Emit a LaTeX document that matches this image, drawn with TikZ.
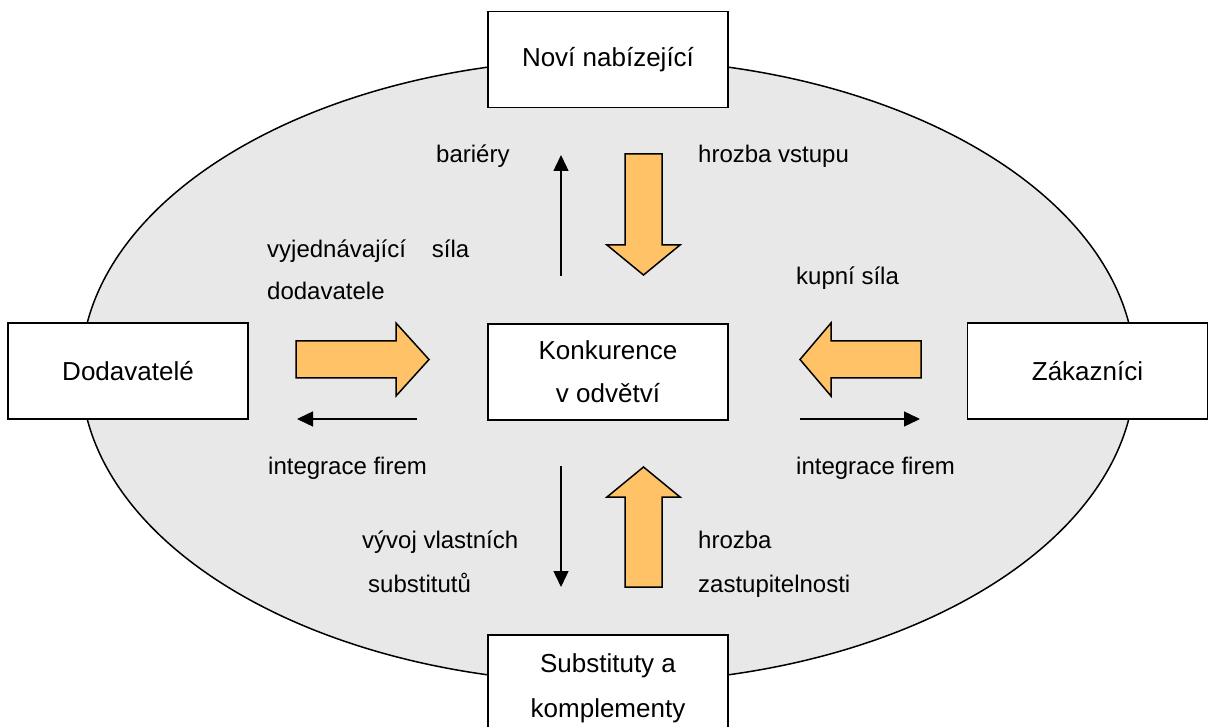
\documentclass[tikz,border=0pt]{standalone}
\usepackage{fontspec}
\setmainfont{Liberation Sans}
\usetikzlibrary{arrows.meta}
\definecolor{fieldgray}{HTML}{E8E8E8}
\definecolor{forceorange}{HTML}{FFC266}
\tikzset{
  box/.style={draw=black, line width=1.5pt, fill=white, minimum width=240pt,
    minimum height=96pt, inner sep=0pt, align=center,
    font=\fontsize{26}{43}\selectfont},
  lbl/.style={anchor=base west, inner sep=0pt, font=\fontsize{24}{24}\selectfont},
  thinarrow/.style={draw=black, line width=1.4pt,
    -{Triangle[length=16pt,width=15pt]}},
  fatarrow/.style={draw=black, line width=1.5pt, fill=forceorange, line join=miter}
}
% fat arrow: #1 = tail centre, #2 = direction angle, #3 = total length, #4 = head length
\newcommand\forcearrow[4]{%
  \draw[fatarrow, shift={(#1)}, rotate=#2]
    (0,-18.5) -- ({#3-#4},-18.5) -- ({#3-#4},-36.5) -- (#3,0)
    -- ({#3-#4},36.5) -- ({#3-#4},18.5) -- (0,18.5) -- cycle;}
\begin{document}
\begin{tikzpicture}[x=1pt, y=-1pt]
  \useasboundingbox (0,0) rectangle (1208,727);
  \clip (0,0) rectangle (1208,727);

  % industry field
  \draw[line width=1.5pt, fill=fieldgray] (608,371) ellipse [x radius=527pt, y radius=312pt];

  % the five forces
  \node[box] (novi) at (608,59.5) {Noví nabízející};
  \node[box] (dod) at (128,371) {Dodavatelé};
  \node[box] (konk) at (608,372) {Konkurence\\v odvětví};
  \node[box] (zak) at (1087.5,371) {Zákazníci};
  \node[box, minimum height=110pt, text depth=0pt] (subst) at (608,690) {};
  \node[anchor=base, inner sep=0pt, font=\fontsize{26}{26}\selectfont] at (608,672) {Substituty a};
  \node[anchor=base, inner sep=0pt, font=\fontsize{26}{26}\selectfont] at (608,717) {komplementy};

  % orange pressure arrows
  \forcearrow{296,359.5}{0}{133}{33}
  \forcearrow{921,359.5}{180}{121}{31}
  \forcearrow{643.5,154}{-90}{121}{30}
  \forcearrow{643.5,587}{90}{120}{30}

  % thin response arrows
  \coordinate (barS) at (561,276);
  \coordinate (barE) at (561,155);
  \draw[thinarrow] (barS) -- (barE);
  \coordinate (vyvS) at (561,466);
  \coordinate (vyvE) at (561,587);
  \draw[thinarrow] (vyvS) -- (vyvE);
  \coordinate (intLS) at (417,419);
  \coordinate (intLE) at (297,419);
  \draw[thinarrow] (intLS) -- (intLE);
  \coordinate (intRS) at (800,419);
  \coordinate (intRE) at (920,419);
  \draw[thinarrow] (intRS) -- (intRE);

  % labels
  \node[lbl] (l1) at (436,163) {bariéry};
  \node[lbl] (l2) at (698,163) {hrozba vstupu};
  \node[lbl] (l3) at (267,258) {vyjednávající\hspace{26pt}síla};
  \node[lbl] (l4) at (267,300) {dodavatele};
  \node[lbl] (l5) at (796,285) {kupní síla};
  \node[lbl] (l6) at (268,474) {integrace firem};
  \node[lbl] (l7) at (796,474) {integrace firem};
  \node[lbl] (l8) at (362,548) {vývoj vlastních};
  \node[lbl] (l9) at (368,592) {substitutů};
  \node[lbl] (l10) at (698,548) {hrozba};
  \node[lbl] (l11) at (698,592) {zastupitelnosti};
\end{tikzpicture}
\end{document}
